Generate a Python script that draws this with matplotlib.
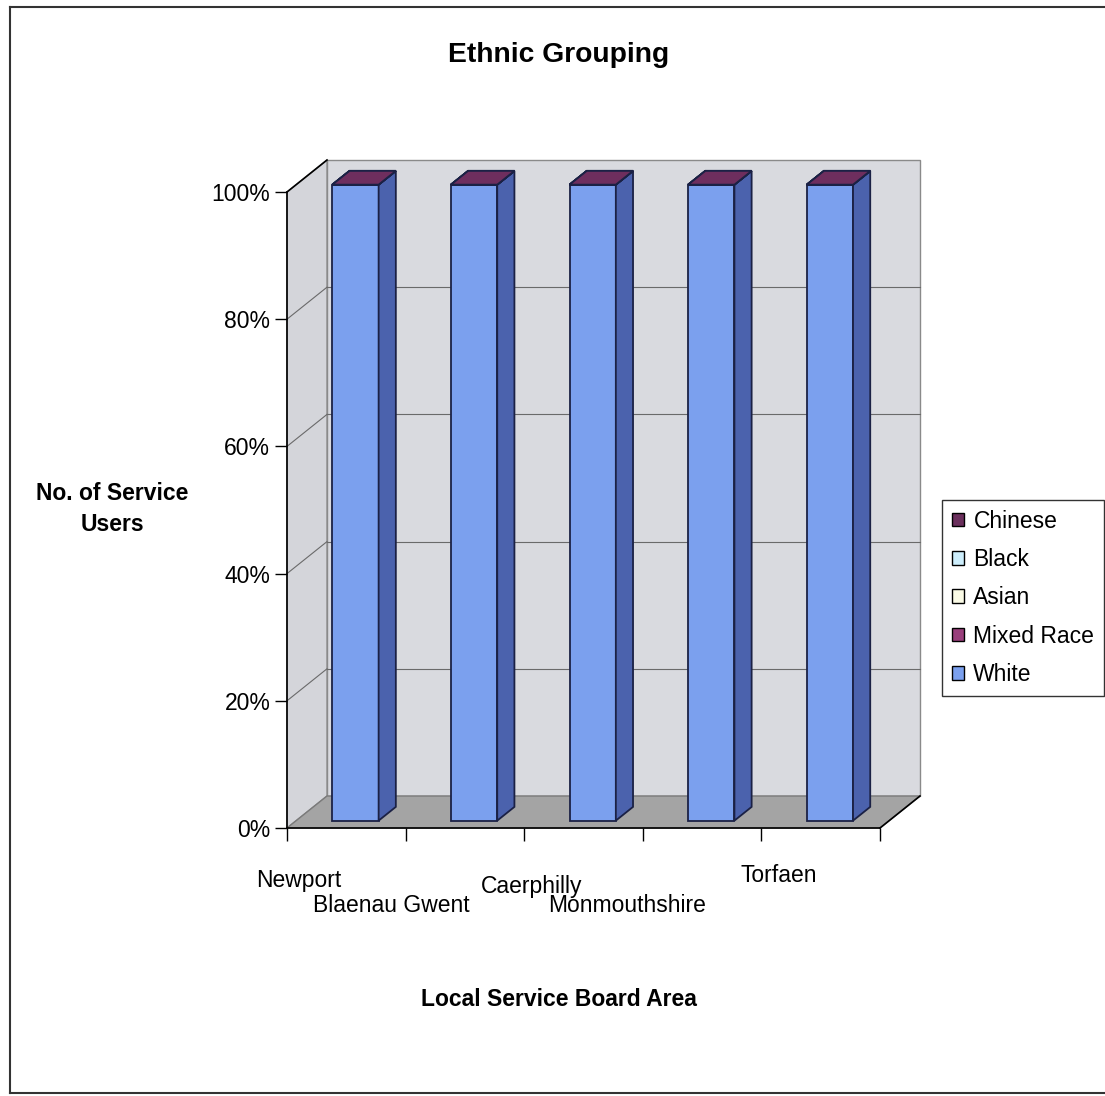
import matplotlib
matplotlib.use("Agg")
import matplotlib.pyplot as plt
from matplotlib.patches import Polygon, Patch
from matplotlib.lines import Line2D
from matplotlib.ticker import PercentFormatter
from matplotlib.transforms import blended_transform_factory

plt.rcParams["font.family"] = ["Liberation Sans", "DejaVu Sans"]

# Share of service users (%) by ethnic group in each Local Service Board area
areas = ["Newport", "Blaenau Gwent", "Caerphilly", "Monmouthshire", "Torfaen"]
white = [100, 100, 100, 100, 100]
mixed_race = [0, 0, 0, 0, 0]
asian = [0, 0, 0, 0, 0]
black = [0, 0, 0, 0, 0]
chinese = [0, 0, 0, 0, 0]

series_names = ["White", "Mixed Race", "Asian", "Black", "Chinese"]
series_values = [white, mixed_race, asian, black, chinese]
front_colors = ["#7ba0ee", "#993f7c", "#fbfbe6", "#cdeefc", "#6a2f5c"]
side_colors = ["#4b62ad", "#6e2a58", "#c8c8b4", "#98bccb", "#4a1f40"]
top_colors = ["#8fb0f2", "#a8548a", "#ffffef", "#e0f6ff", "#6e2e5e"]

W, H = 1105, 1096
fig = plt.figure(figsize=(W / 100, H / 100), dpi=100)
fig.patch.set_facecolor("white")

# front plane of the chart
x0, x1, yb, yt = 287, 880, 828, 192
ax = fig.add_axes([x0 / W, 1 - yb / H, (x1 - x0) / W, (yb - yt) / H])
ax.set_xlim(0, len(areas))
ax.set_ylim(0, 100)
ax.patch.set_visible(False)

# depth of the 3-D box, in data units
dx = 40 / ((x1 - x0) / len(areas))
dy = 32 / (yb - yt) * 100

def poly(pts, fc, ec="none", lw=0.8, z=1):
    ax.add_patch(Polygon(pts, closed=True, facecolor=fc, edgecolor=ec,
                         linewidth=lw, clip_on=False, zorder=z))

n = len(areas)
# walls and floor
poly([(dx, dy), (n + dx, dy), (n + dx, 100 + dy), (dx, 100 + dy)], "#d9dadf", "#8a8a8a", 1.0, 0.5)
poly([(0, 0), (dx, dy), (dx, 100 + dy), (0, 100)], "#d4d5da", "#8a8a8a", 1.0, 0.6)
poly([(0, 0), (n, 0), (n + dx, dy), (dx, dy)], "#a4a4a4", "#7a7a7a", 1.0, 0.7)

# gridlines on back and side walls
for g in [20, 40, 60, 80]:
    ax.plot([dx, n + dx], [g + dy, g + dy], color="#6a6a6a", lw=0.8, zorder=0.8, clip_on=False)
    ax.plot([0, dx], [g, g + dy], color="#6a6a6a", lw=0.8, zorder=0.8, clip_on=False)

# box outline in black
ax.plot([0, dx], [100, 100 + dy], color="black", lw=1.2, zorder=3, clip_on=False)
ax.plot([n, n + dx], [0, dy], color="black", lw=1.2, zorder=3, clip_on=False)

# 3-D stacked bars
bw = 0.39
f0, f1 = 0.23, 0.66
edge = "#1b2145"
for i in range(n):
    c = i + 0.5
    xl = c - bw / 2 + f0 * dx
    xr = c + bw / 2 + f0 * dx
    ox = (f1 - f0) * dx
    oy = (f1 - f0) * dy
    base = f0 * dy
    bottom = 0.0
    for s, vals in enumerate(series_values):
        h = vals[i]
        top = bottom + h
        if h > 0:
            poly([(xl, base + bottom), (xr, base + bottom), (xr, base + top), (xl, base + top)],
                 front_colors[s], edge, 1.3, 2)
            poly([(xr, base + bottom), (xr + ox, base + bottom + oy), (xr + ox, base + top + oy), (xr, base + top)],
                 side_colors[s], edge, 1.3, 2)
        poly([(xl, base + top), (xr, base + top), (xr + ox, base + top + oy), (xl + ox, base + top + oy)],
             top_colors[s], edge, 1.3, 2.1)
        bottom = top

# axes, ticks
for sp in ["top", "right"]:
    ax.spines[sp].set_visible(False)
for sp in ["left", "bottom"]:
    ax.spines[sp].set_linewidth(1.2)
    ax.spines[sp].set_zorder(3)
ax.set_yticks([0, 20, 40, 60, 80, 100])
ax.yaxis.set_major_formatter(PercentFormatter(decimals=0))
ax.tick_params(axis="y", direction="out", length=9, width=1.0, labelsize=16.5, pad=3, colors="black")
ax.set_xticks(range(n + 1))
ax.set_xticklabels([])
ax.tick_params(axis="x", direction="out", length=9, width=1.0)

# staggered category labels
trans = blended_transform_factory(ax.transData, ax.transAxes)
label_dx = [-0.40, -0.62, -0.44, -0.63, -0.35]
label_dy = [52, 77, 59, 78, 48]
for i, name in enumerate(areas):
    ax.text(i + 0.5 + label_dx[i], -label_dy[i] / (yb - yt), name, transform=trans,
            ha="center", va="center", fontsize=16.5)

# titles
fig.text(559 / W, 1 - 55 / H, "Ethnic Grouping", ha="center", va="center",
         fontsize=20.3, fontweight="bold")
fig.text(559 / W, 1 - 999 / H, "Local Service Board Area", ha="center", va="center",
         fontsize=16.5, fontweight="bold")
fig.text(112 / W, 1 - 509 / H, "No. of Service\nUsers", ha="center", va="center",
         fontsize=16.5, fontweight="bold", linespacing=1.45)

# legend, top series first
handles = [Patch(facecolor=front_colors[s], edgecolor="black", linewidth=1.0, label=series_names[s])
           for s in reversed(range(len(series_names)))]
leg = fig.legend(handles=handles, loc="upper left", bbox_to_anchor=(942 / W, 1 - 500 / H),
                 fontsize=16.5, frameon=True, fancybox=False, edgecolor="black",
                 handlelength=0.55, handleheight=0.55, handletextpad=0.4,
                 labelspacing=0.67, borderpad=0.42, borderaxespad=0)
leg.get_frame().set_linewidth(1.0)

# outer chart border
for (xa, ya, xb, yb2) in [(10, 7, 1105, 7), (10, 7, 10, 1093), (10, 1093, 1105, 1093)]:
    fig.add_artist(Line2D([xa / W, xb / W], [1 - ya / H, 1 - yb2 / H], color="#333333", lw=1.5))

fig.savefig("out.png", dpi=100)
